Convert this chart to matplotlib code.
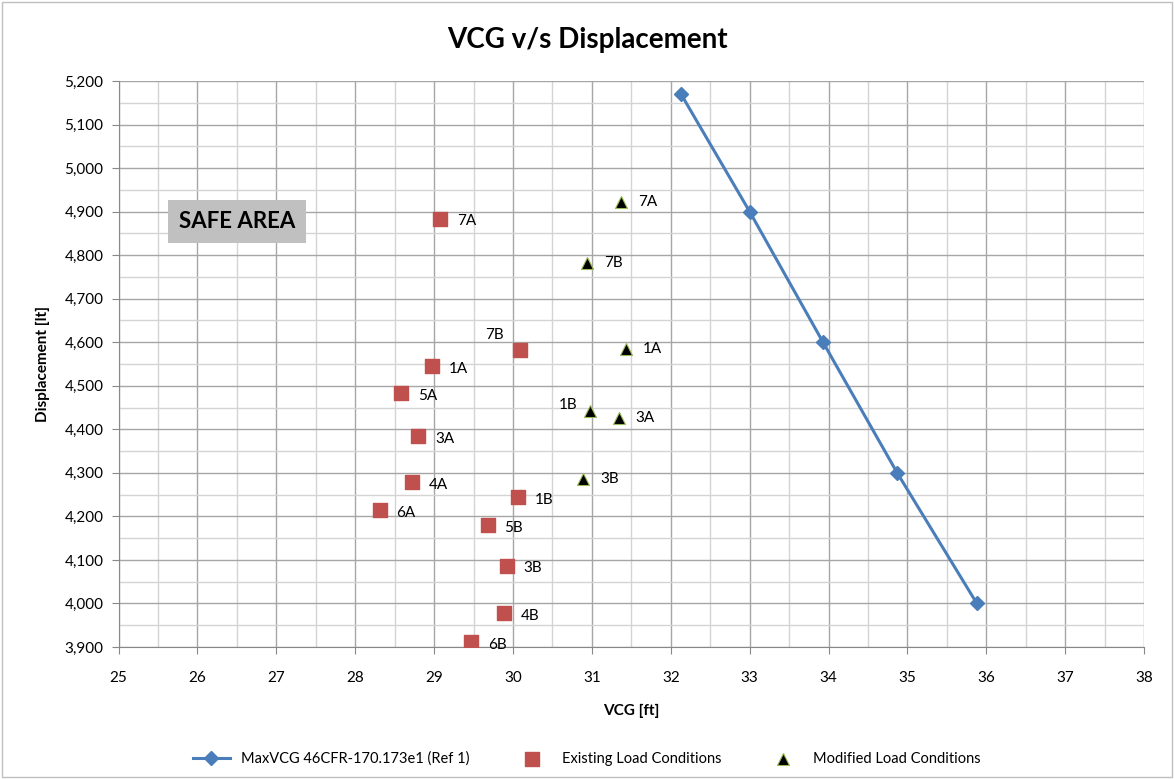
"""VCG vs displacement chart with max VCG limit line and load conditions."""

import matplotlib

matplotlib.use("Agg")
import matplotlib.pyplot as plt
from matplotlib.patches import Rectangle
from matplotlib.ticker import FuncFormatter, MultipleLocator

# max VCG curve (46CFR-170.173e1)
limit_vcg = [32.13, 33.0, 33.93, 34.87, 35.88]
limit_disp = [5170, 4900, 4600, 4300, 4000]

# existing load conditions
existing_labels = ["7A", "7B", "1A", "5A", "3A", "4A", "1B", "6A", "5B", "3B", "4B", "6B"]
existing_vcg = [29.08, 30.09, 28.97, 28.58, 28.80, 28.72, 30.06, 28.31, 29.68, 29.92, 29.89, 29.47]
existing_disp = [4884, 4582, 4545, 4483, 4385, 4278, 4245, 4215, 4180, 4087, 3978, 3912]

# modified load conditions
modified_labels = ["7A", "7B", "1A", "1B", "3A", "3B"]
modified_vcg = [31.37, 30.94, 31.43, 30.97, 31.34, 30.89]
modified_disp = [4922, 4783, 4584, 4443, 4425, 4285]

# labels drawn above-left of the point instead of to the right
left_existing = {"7B"}
left_modified = {"1B"}

plt.rcParams["font.family"] = ["Lato", "DejaVu Sans"]

fig = plt.figure(figsize=(11.74, 7.79), dpi=100)
ax = fig.add_axes([0.101, 0.1695, 0.8735, 0.7265])

ax.set_xlim(25, 38)
ax.set_ylim(3900, 5200)
ax.xaxis.set_major_locator(MultipleLocator(1))
ax.xaxis.set_minor_locator(MultipleLocator(0.5))
ax.yaxis.set_major_locator(MultipleLocator(100))
ax.yaxis.set_minor_locator(MultipleLocator(50))
ax.yaxis.set_major_formatter(FuncFormatter(lambda v, _: f"{v:,.0f}"))
ax.grid(which="major", color="#a6a6a6", linewidth=1.0)
ax.grid(which="minor", color="#d4d4d4", linewidth=1.0)
ax.set_axisbelow(True)
ax.tick_params(which="major", length=5, color="#888888", labelsize=11)
ax.tick_params(axis="x", which="major", pad=12)
ax.tick_params(axis="y", which="major", pad=6)
ax.tick_params(which="minor", length=0)
for side in ("top", "right"):
    ax.spines[side].set_visible(False)
for side in ("left", "bottom"):
    ax.spines[side].set_color("#888888")

ax.plot(limit_vcg, limit_disp, color="#4a7ebb", linewidth=2.2, marker="D",
        markersize=7, label="MaxVCG 46CFR-170.173e1 (Ref 1)", zorder=3)
ax.scatter(existing_vcg, existing_disp, marker="s", s=105, color="#c0504d",
           label="Existing Load Conditions", zorder=4)
ax.scatter(modified_vcg, modified_disp, marker="^", s=75, color="black",
           edgecolors="#9bbb59", linewidths=0.8,
           label="Modified Load Conditions", zorder=4)

for name, x, y in zip(existing_labels, existing_vcg, existing_disp):
    if name in left_existing:
        ax.annotate(name, (x, y), xytext=(-12, 6), textcoords="offset points",
                    ha="right", va="bottom", fontsize=11)
    else:
        ax.annotate(name, (x, y), xytext=(12, -2), textcoords="offset points",
                    ha="left", va="center", fontsize=11)

for name, x, y in zip(modified_labels, modified_vcg, modified_disp):
    if name in left_modified:
        ax.annotate(name, (x, y), xytext=(-9, 4), textcoords="offset points",
                    ha="right", va="center", fontsize=11)
    else:
        ax.annotate(name, (x, y), xytext=(12, 0), textcoords="offset points",
                    ha="left", va="center", fontsize=11)

ax.text(26.5, 4877, "SAFE AREA", ha="center", va="center", fontsize=16,
        fontweight="bold", zorder=5,
        bbox=dict(boxstyle="square,pad=0.5", facecolor="#c0c0c0", edgecolor="none"))

fig.text(0.5, 1 - 40 / 779, "VCG v/s Displacement", ha="center", va="center",
         fontsize=20, fontweight="bold")
ax.set_xlabel("VCG [ft]", fontsize=11, fontweight="bold", labelpad=14)
ax.set_ylabel("Displacement [lt]", fontsize=11, fontweight="bold", labelpad=10)

fig.legend(loc="lower center", bbox_to_anchor=(0.5, 0.0), ncol=3, frameon=False,
           fontsize=10.5, columnspacing=3, handlelength=2.5)

fig.patches.append(Rectangle((0.002, 0.002), 0.996, 0.996, transform=fig.transFigure,
                             fill=False, edgecolor="#bfbfbf", linewidth=1))

fig.savefig("out.png", dpi=100)
